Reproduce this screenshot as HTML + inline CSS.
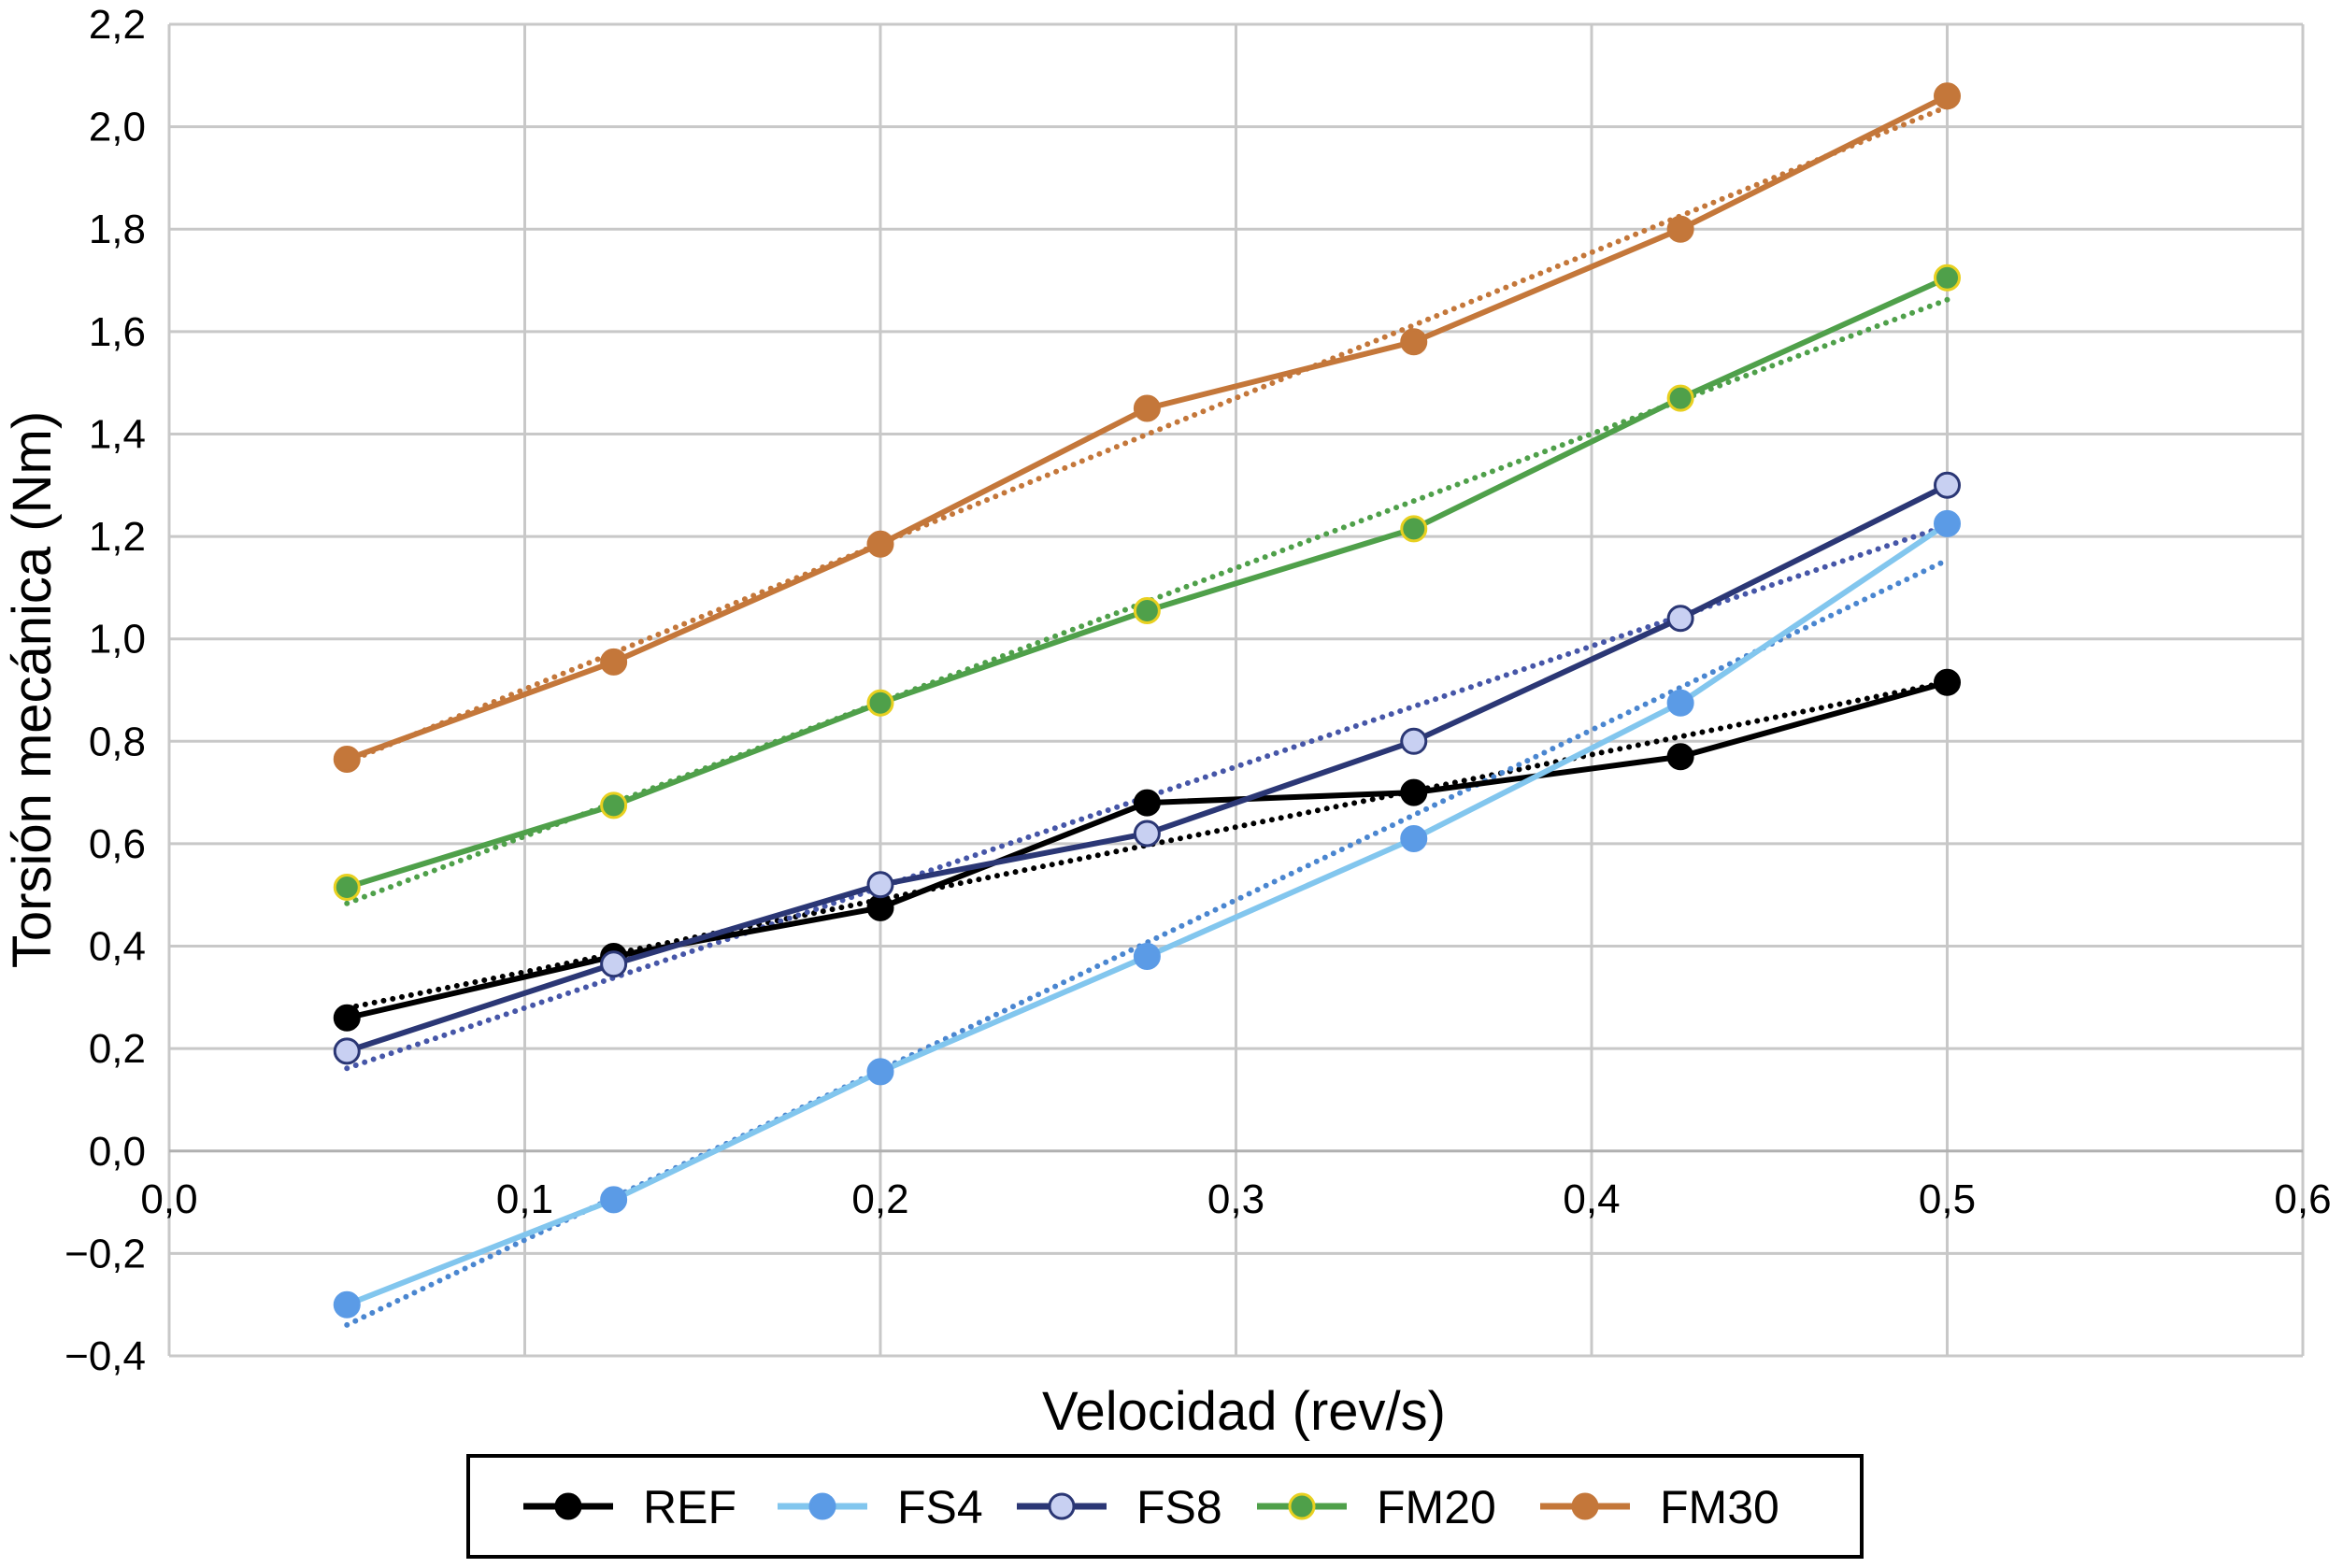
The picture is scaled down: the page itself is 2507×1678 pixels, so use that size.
<!DOCTYPE html>
<html><head><meta charset="utf-8"><style>
html,body{margin:0;padding:0;background:#fff;}
svg text{font-family:"Liberation Sans",sans-serif;}
</style></head><body>
<svg id="chart" width="2507" height="1673" viewBox="0 0 2507 1673" xmlns="http://www.w3.org/2000/svg">
<g id="grid"></g>
<g id="ticks"></g>
<g id="trends"></g>
<g id="series"></g>
<text transform="translate(54,738) rotate(-90)" text-anchor="middle" font-size="58">Torsión mecánica (Nm)</text>
<text x="1331" y="1530" text-anchor="middle" font-size="58">Velocidad (rev/s)</text>
<g id="legend">
<rect x="501" y="1558" width="1491" height="108" fill="#fff" stroke="#000" stroke-width="4"/>
</g>
</svg>
<script>
const xVals=[0.05,0.125,0.2,0.275,0.35,0.425,0.5];
const seriesNames=["REF","FS4","FS8","FM20","FM30"];
const refVals=[0.26,0.38,0.475,0.68,0.70,0.77,0.915];
const fs4Vals=[-0.30,-0.095,0.155,0.38,0.61,0.875,1.225];
const fs8Vals=[0.195,0.365,0.52,0.62,0.80,1.04,1.30];
const fm20Vals=[0.515,0.675,0.875,1.055,1.215,1.47,1.705];
const fm30Vals=[0.765,0.955,1.185,1.45,1.58,1.80,2.06];
const xTicks=["0,0","0,1","0,2","0,3","0,4","0,5","0,6"];
const yTicks=["−0,4","−0,2","0,0","0,2","0,4","0,6","0,8","1,0","1,2","1,4","1,6","1,8","2,0","2,2"];

const NS="http://www.w3.org/2000/svg";
const X0=181,X1=2464,Y0=1451,Y1=26,XMIN=0,XMAX=0.6,YMIN=-0.4,YMAX=2.2;
const sx=v=>X0+(v-XMIN)/(XMAX-XMIN)*(X1-X0);
const sy=v=>Y0-(v-YMIN)/(YMAX-YMIN)*(Y0-Y1);
function mk(tag,attrs,parent){const e=document.createElementNS(NS,tag);for(const k in attrs)e.setAttribute(k,attrs[k]);parent.appendChild(e);return e;}
const grid=document.getElementById('grid'),ticks=document.getElementById('ticks');
xTicks.forEach((t,i)=>{const v=i*0.1,x=sx(v);
 const l=mk('line',{x1:x,x2:x,y1:Y1,y2:Y0,stroke:'#c8c8c8','stroke-width':3},grid);
 
 
 const tx=mk('text',{x:x,y:sy(0)+66,'text-anchor':'middle','font-size':44},ticks);tx.textContent=t;
 
 
});
yTicks.forEach((t,i)=>{const v=-0.4+i*0.2,y=sy(v);
 const l=mk('line',{x1:X0,x2:X1,y1:y,y2:y,stroke:Math.abs(v)<1e-9?'#b0b0b0':'#c8c8c8','stroke-width':3},grid);
 
 
 const tx=mk('text',{x:156,y:y+15,'text-anchor':'end','font-size':44},ticks);tx.textContent=t;
 
 
});
const styles=[
 {vals:refVals,line:'#000',mfill:'#000',mstroke:'#000',trend:'#000'},
 {vals:fs4Vals,line:'#82c6ee',mfill:'#5b9be6',mstroke:'#5b9be6',trend:'#4a86d0'},
 {vals:fs8Vals,line:'#2b3775',mfill:'#c8d0f2',mstroke:'#2b3775',trend:'#4656a8'},
 {vals:fm20Vals,line:'#4fa04a',mfill:'#4fa04a',mstroke:'#e8d020',trend:'#4fa04a'},
 {vals:fm30Vals,line:'#c4773a',mfill:'#c4773a',mstroke:'#c4773a',trend:'#c4773a'}];
const trends=document.getElementById('trends'),ser=document.getElementById('series');
styles.forEach((s,si)=>{
 const n=xVals.length;let mx=0,my=0;xVals.forEach((x,i)=>{mx+=x;my+=s.vals[i];});mx/=n;my/=n;
 let num=0,den=0;xVals.forEach((x,i)=>{num+=(x-mx)*(s.vals[i]-my);den+=(x-mx)*(x-mx);});
 const b=num/den,a=my-b*mx;
 const tl=mk('line',{x1:sx(xVals[0]),y1:sy(a+b*xVals[0]),x2:sx(xVals[n-1]),y2:sy(a+b*xVals[n-1]),stroke:s.trend,'stroke-width':6,'stroke-dasharray':'0 10','stroke-linecap':'round'},trends);
 
 
});
styles.forEach((s,si)=>{
 const g=mk('g',{},ser);
 
 
 const pts=xVals.map((x,i)=>sx(x)+','+sy(s.vals[i])).join(' ');
 const pl=mk('polyline',{points:pts,fill:'none',stroke:s.line,'stroke-width':6,'stroke-linejoin':'round'},g);
 
 
 xVals.forEach((x,i)=>{
  const c=mk('circle',{cx:sx(x),cy:sy(s.vals[i]),r:13,fill:s.mfill,stroke:s.mstroke,'stroke-width':3},g);
  
  
 });
});
const leg=document.getElementById('legend');
const lx=[560,832,1088,1345,1648];
seriesNames.forEach((nm,i)=>{
 const s=styles[i],x=lx[i],y=1612;
 const g=mk('g',{},leg);
 
 
 mk('line',{x1:x,x2:x+96,y1:y,y2:y,stroke:s.line,'stroke-width':7},g);
 mk('circle',{cx:x+48,cy:y,r:13,fill:s.mfill,stroke:s.mstroke,'stroke-width':3},g);
 const t=mk('text',{x:x+128,y:y+18,'font-size':50},g);t.textContent=nm;
});
</script>
</body></html>
